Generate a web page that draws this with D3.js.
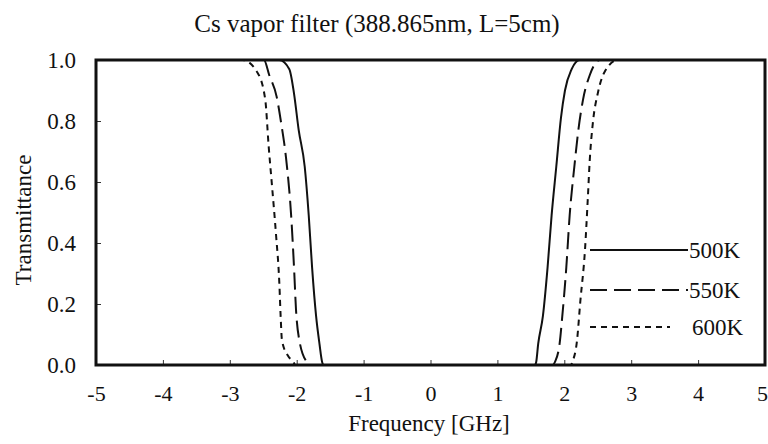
<!DOCTYPE html>
<html>
<head>
<meta charset="utf-8">
<script src="https://cdn.jsdelivr.net/npm/d3@7"></script>
<style>
  body { margin: 0; background: #fff; }
  svg text { font-family: "Liberation Serif", "DejaVu Serif", "Times New Roman", Times, serif; fill: #111; }
</style>
</head>
<body>
<main></main>
<script>
// データ (周波数 GHz, 透過率)
const xTicks = [-5, -4, -3, -2, -1, 0, 1, 2, 3, 4, 5];
const yTicks = [0, 0.2, 0.4, 0.6, 0.8, 1.0];
const seriesNames = ["500K", "550K", "600K"];

const t500 = [[-5, 1], [-2.26, 1.0], [-2.11, 0.97], [-2.04, 0.89], [-1.97, 0.77], [-1.88, 0.65], [-1.82, 0.49],
  [-1.77, 0.32], [-1.71, 0.16], [-1.66, 0.07], [-1.62, 0.01], [-1.60, 0],
  [1.56, 0], [1.58, 0.01], [1.61, 0.07], [1.68, 0.16], [1.75, 0.32], [1.81, 0.49], [1.88, 0.65],
  [1.95, 0.81], [2.01, 0.90], [2.11, 0.97], [2.23, 1.0], [5, 1]];
const t550 = [[-5, 1], [-2.49, 1.0], [-2.41, 0.95], [-2.30, 0.88], [-2.23, 0.79], [-2.16, 0.68], [-2.08, 0.48],
  [-2.04, 0.32], [-2.01, 0.18], [-1.96, 0.08], [-1.85, 0.01], [-1.80, 0],
  [1.83, 0], [1.86, 0.01], [1.93, 0.07], [1.97, 0.16], [2.03, 0.32], [2.08, 0.49], [2.15, 0.65],
  [2.21, 0.77], [2.28, 0.87], [2.38, 0.95], [2.53, 1.0], [5, 1]];
const t600 = [[-5, 1], [-2.81, 1.0], [-2.59, 0.96], [-2.47, 0.87], [-2.42, 0.72], [-2.37, 0.59], [-2.31, 0.43],
  [-2.26, 0.27], [-2.24, 0.16], [-2.22, 0.08], [-2.13, 0.03], [-2.05, 0.01], [-2.02, 0],
  [2.10, 0], [2.12, 0.01], [2.19, 0.08], [2.24, 0.21], [2.31, 0.38], [2.35, 0.54], [2.38, 0.67],
  [2.43, 0.80], [2.50, 0.89], [2.60, 0.96], [2.80, 1.0], [5, 1]];

const dashes = [null, "17,7", "6,5"];
const series = [t500, t550, t600];

// SVG要素の設定
const width = 768, height = 444;
const margin = {left: 96, right: 3, top: 60, bottom: 79};
const svg = d3.select("main").append("svg")
    .attr("width", width)
    .attr("height", height);

const x = d3.scaleLinear().domain([-5, 5]).range([margin.left, width - margin.right]);
const y = d3.scaleLinear().domain([0, 1]).range([height - margin.bottom, margin.top]);

// 曲線 (xに対して単調なのでmonotoneXで行き過ぎを防ぐ)
const line = d3.line()
    .x(d => x(d[0]))
    .y(d => y(d[1]))
    .curve(d3.curveMonotoneX);

svg.append("g").selectAll("path")
    .data(series)
    .enter().append("path")
    .attr("d", line)
    .attr("fill", "none")
    .attr("stroke", "#111")
    .attr("stroke-width", 2)
    .attr("stroke-dasharray", (d, i) => dashes[i]);

// 軸 (内向きの目盛)
svg.append("g")
    .attr("transform", `translate(0,${y(0)})`)
    .call(d3.axisBottom(x).tickValues(xTicks).tickSizeInner(-5).tickSizeOuter(0).tickFormat(d => String(d)))
    .call(g => g.select(".domain").remove())
    .call(g => g.selectAll("line").attr("stroke", "#333"))
    .call(g => g.selectAll("text").attr("dy", null).attr("y", 36).attr("font-size", 22)
        .attr("dx", d => d === 5 ? -3 : 0));

svg.append("g")
    .attr("transform", `translate(${x(-5)},0)`)
    .call(d3.axisLeft(y).tickValues(yTicks).tickSizeInner(-5).tickSizeOuter(0).tickFormat(d3.format(".1f")))
    .call(g => g.select(".domain").remove())
    .call(g => g.selectAll("line").attr("stroke", "#333"))
    .call(g => g.selectAll("text").attr("x", -20).attr("font-size", 23));

svg.selectAll("g").attr("font-family", null);

// 枠
svg.append("rect")
    .attr("x", x(-5))
    .attr("y", y(1))
    .attr("width", x(5) - x(-5))
    .attr("height", y(0) - y(1))
    .attr("fill", "none")
    .attr("stroke", "#111")
    .attr("stroke-width", 3);

// 凡例
const legendY = [250, 290, 327];
const legendEnd = [688, 688, 670];
const legend = svg.append("g").selectAll("g")
    .data(seriesNames)
    .enter().append("g");
legend.append("line")
    .attr("x1", 590)
    .attr("x2", (d, i) => legendEnd[i])
    .attr("y1", (d, i) => legendY[i])
    .attr("y2", (d, i) => legendY[i])
    .attr("stroke", "#111")
    .attr("stroke-width", 2)
    .attr("stroke-dasharray", (d, i) => dashes[i]);
legend.append("text")
    .attr("x", (d, i) => i === 2 ? 692 : 689)
    .attr("y", (d, i) => legendY[i])
    .attr("dy", "0.35em")
    .attr("font-size", 23)
    .text(d => d);

// タイトルと軸ラベル
svg.append("text")
    .attr("x", 377).attr("y", 23).attr("dy", "0.35em")
    .attr("text-anchor", "middle")
    .attr("font-size", 25)
    .text("Cs vapor filter (388.865nm, L=5cm)");

svg.append("text")
    .attr("x", 429).attr("y", 423).attr("dy", "0.35em")
    .attr("text-anchor", "middle")
    .attr("font-size", 23)
    .text("Frequency [GHz]");

svg.append("text")
    .attr("transform", "translate(23,220) rotate(-90)")
    .attr("dy", "0.35em")
    .attr("text-anchor", "middle")
    .attr("font-size", 23)
    .text("Transmittance");
</script>
</body>
</html>
